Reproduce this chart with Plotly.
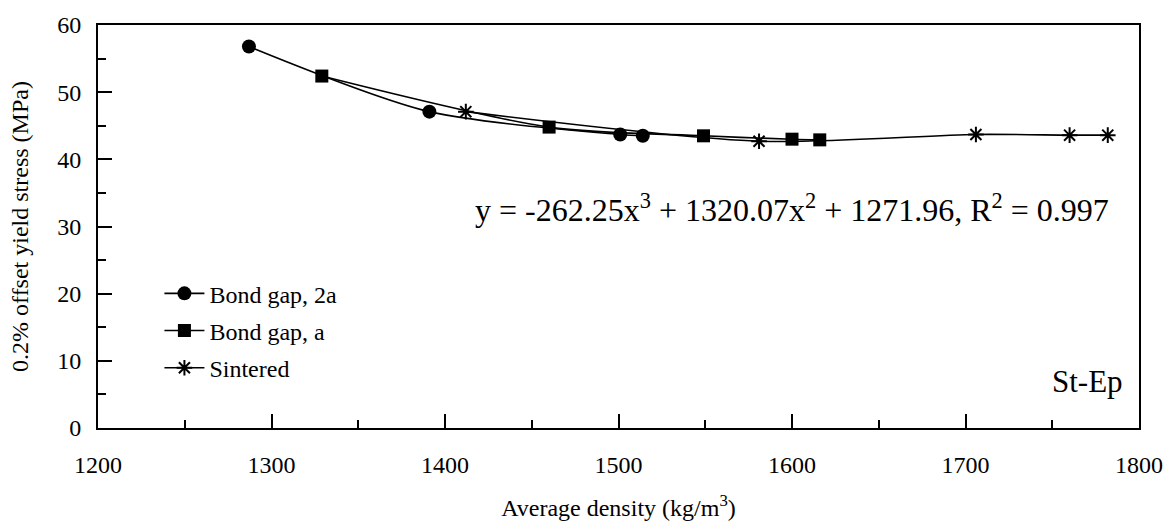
import plotly.graph_objects as go

# Bond gap, 2a
x_2a = [1287, 1391, 1501, 1514]
y_2a = [56.8, 47.1, 43.7, 43.5]
# Bond gap, a
x_a = [1329, 1460, 1549, 1600, 1616]
y_a = [52.4, 44.8, 43.5, 43.0, 42.9]
# Sintered
x_s = [1412, 1581, 1706, 1760, 1782]
y_s = [47.1, 42.7, 43.7, 43.6, 43.6]

x_range = [1200, 1800]
y_range = [0, 60]

FONT = "Liberation Serif"

fig = go.Figure()
fig.add_trace(go.Scatter(
    x=x_2a, y=y_2a, name="Bond gap, 2a", mode="lines+markers", legendgroup="g1",
    line=dict(color="black", width=1.6, shape="spline", smoothing=0.8),
    marker=dict(symbol="circle", size=14, color="black")))
fig.add_trace(go.Scatter(
    x=x_a, y=y_a, name="Bond gap, a", mode="lines+markers", legendgroup="g2",
    line=dict(color="black", width=1.6, shape="spline", smoothing=0.8),
    marker=dict(symbol="square", size=13, color="black")))
fig.add_trace(go.Scatter(
    x=x_s, y=y_s, name="Sintered", mode="lines+markers", legendgroup="g3",
    line=dict(color="black", width=1.6, shape="spline", smoothing=0.8),
    marker=dict(symbol="asterisk-open", size=13, color="black",
                line=dict(width=2, color="black"))))

fig.update_layout(
    width=1175, height=529,
    margin=dict(l=98, r=32, t=20, b=98),
    paper_bgcolor="white", plot_bgcolor="white",
    font=dict(family=FONT, size=24, color="black"),
    xaxis=dict(
        range=x_range, tickmode="linear", tick0=1200, dtick=100,
        showgrid=False, zeroline=False, showline=True, linecolor="black",
        linewidth=2, mirror=True, ticks="inside", tickcolor="black",
        tickwidth=2, ticklen=14, ticklabelstandoff=14,
        minor=dict(ticks="inside", ticklen=8, tickwidth=2, tickcolor="black", dtick=50),
        tickfont=dict(family=FONT, size=24, color="black"),
        title=dict(text="Average density (kg/m<sup>3</sup>)",
                   font=dict(family=FONT, size=24, color="black"), standoff=22),
    ),
    yaxis=dict(
        range=y_range, tickmode="linear", tick0=0, dtick=10,
        showgrid=False, zeroline=False, showline=True, linecolor="black",
        linewidth=2, mirror=True, ticks="inside", tickcolor="black",
        tickwidth=2, ticklen=14, ticklabelstandoff=10,
        minor=dict(ticks="inside", ticklen=8, tickwidth=2, tickcolor="black", dtick=5),
        tickfont=dict(family=FONT, size=24, color="black"),
        title=dict(text="0.2% offset yield stress (MPa)",
                   font=dict(family=FONT, size=24, color="black"), standoff=22),
    ),
    showlegend=True,
    legend=dict(x=0.059, y=0.389, xanchor="left", yanchor="top",
                bgcolor="rgba(0,0,0,0)", tracegroupgap=3, traceorder="grouped",
                font=dict(family=FONT, size=24, color="black"),
                itemwidth=40),
)

fig.add_annotation(
    x=1.0, y=(431 - 207) / 411, xref="paper", yref="paper", xshift=-28,
    text="y = -262.25x<sup>3</sup> + 1320.07x<sup>2</sup> + 1271.96, R<sup>2</sup> = 0.997",
    showarrow=False, xanchor="right", yanchor="middle",
    font=dict(family=FONT, size=32, color="black"))
fig.add_annotation(
    x=1.0, y=0.115, xref="paper", yref="paper", xshift=-14,
    text="St-Ep", showarrow=False, xanchor="right", yanchor="middle",
    font=dict(family=FONT, size=31, color="black"))

fig.write_html("out.html")
